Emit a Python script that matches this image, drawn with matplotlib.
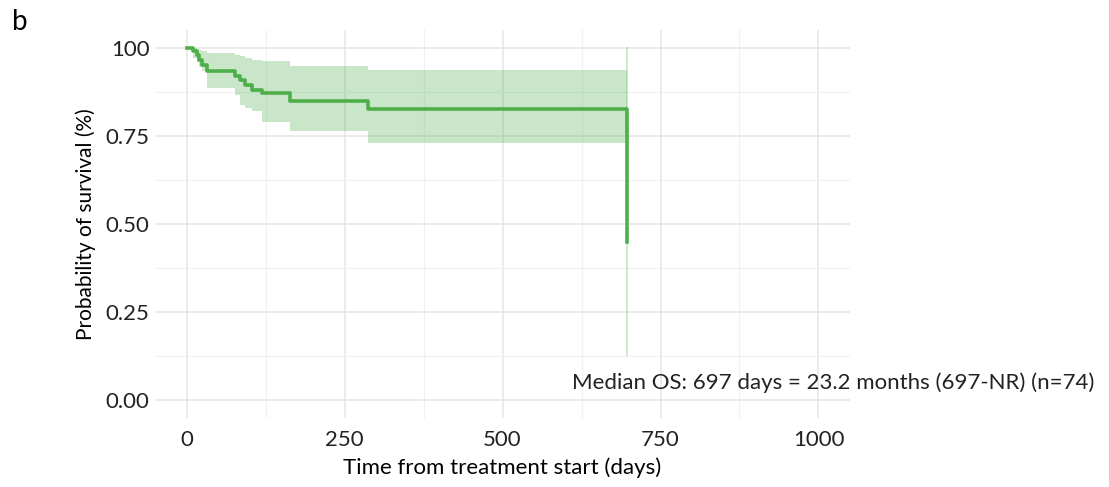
import numpy as np
import matplotlib
matplotlib.use("Agg")
import matplotlib.pyplot as plt

# Kaplan-Meier estimate (days, survival, 95% CI)
days = [0, 10, 16, 20, 25, 33, 77, 85, 93, 104, 119, 164, 287, 697]
surv = [1.000, 0.990, 0.978, 0.965, 0.950, 0.935, 0.921, 0.907, 0.893, 0.880, 0.870, 0.849, 0.827, 0.450]
upper = [1.000, 1.000, 0.997, 0.994, 0.990, 0.985, 0.980, 0.975, 0.971, 0.966, 0.962, 0.947, 0.938, 1.000]
lower = [1.000, 0.970, 0.958, 0.945, 0.935, 0.885, 0.865, 0.838, 0.830, 0.819, 0.790, 0.765, 0.729, 0.128]

x_ticks = [0, 250, 500, 750, 1000]
y_ticks = [0.0, 0.25, 0.5, 0.75, 1.0]
y_tick_labels = ["0.00", "0.25", "0.50", "0.75", "100"]
note = "Median OS: 697 days = 23.2 months (697-NR) (n=74)"

green = "#4daf4a"
plt.rcParams['font.family'] = ['Lato', 'DejaVu Sans']

fig = plt.figure(figsize=(11.09, 4.87), dpi=100)
ax = fig.add_axes([0.1398, 0.1417, 0.6267, 0.7967])

# confidence band and survival curve
ax.fill_between(days, lower, upper, step='post', color=green, alpha=0.3, linewidth=0)
ax.plot([days[-1], days[-1]], [lower[-1], upper[-1]], color=green, alpha=0.3, linewidth=1.3)
ax.step(days, surv, where='post', color=green, linewidth=2.6)

ax.set_xlim(-50, 1050)
ax.set_ylim(-0.05, 1.05)
ax.set_xticks(x_ticks)
ax.set_yticks(y_ticks)
ax.set_yticklabels(y_tick_labels)
ax.set_xticks(np.arange(125, 1000, 250), minor=True)
ax.set_yticks(np.arange(0.125, 1.0, 0.25), minor=True)

ax.grid(which='major', color='#e6e6e6', linewidth=1.1)
ax.grid(which='minor', color='#f1f1f1', linewidth=0.9)
ax.set_axisbelow(True)
for s in ax.spines.values():
    s.set_visible(False)
ax.tick_params(which='both', length=0, labelsize=16, colors='#222222')
ax.tick_params(axis='y', pad=4)
ax.tick_params(axis='x', pad=9)

ax.set_xlabel("Time from treatment start (days)", fontsize=16, labelpad=5)
ax.set_ylabel("Probability of survival (%)", fontsize=15, labelpad=7)

ax.text(0.6, 0.09, note, transform=ax.transAxes, fontsize=16, va='center', ha='left',
        clip_on=False, color='#222222')
fig.text(0.011, 0.955, "b", fontsize=20, va='center', ha='left')

fig.savefig("out.png", dpi=100)
